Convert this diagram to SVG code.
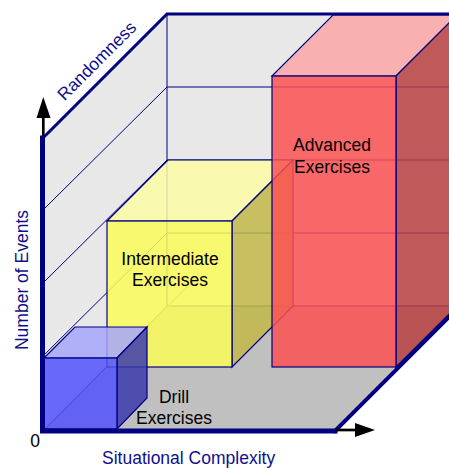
<svg xmlns="http://www.w3.org/2000/svg" width="449" height="469" viewBox="0 0 449 469">
<style>
.wall{fill:#e8e8e8}
.floor{fill:#c0c0c0}
.grid{stroke:#000080;stroke-width:1;fill:none}
.edge{stroke:#000080;stroke-width:1.2;stroke-linejoin:miter}
.face{fill-opacity:.85}
.border{stroke:#000080;fill:none;stroke-linecap:square}
.lbl{font-family:"Liberation Sans",Arial,Helvetica,sans-serif;font-size:17.5px}
.axis{fill:#10108c}
.txt{fill:#000}
</style>
<defs>
<marker id="ah" viewBox="0 0 10 10" refX="10" refY="5" markerWidth="6" markerHeight="6" orient="auto" markerUnits="userSpaceOnUse">
<path d="M0,0 L10,5 L0,10 z" fill="#a0a0a0"/>
</marker>
</defs>
<g id="room">
<rect class="wall" x="167" y="14" width="290" height="292"/>
<polygon class="wall" points="42,138 167,14 167,306 42,432"/>
<polygon class="floor" points="42,432 335,432 461,306 167,306"/>
</g>
<g id="grid">
<line class="grid" x1="167" y1="14" x2="167" y2="306"/>
<line class="grid" x1="167" y1="87" x2="449" y2="87"/>
<line class="grid" x1="167" y1="160" x2="449" y2="160"/>
<line class="grid" x1="167" y1="233" x2="449" y2="233"/>
<line class="grid" x1="167" y1="306" x2="449" y2="306"/>
<line class="grid" x1="42" y1="211" x2="167" y2="87"/>
<line class="grid" x1="42" y1="284" x2="167" y2="160"/>
<line class="grid" x1="42" y1="357" x2="167" y2="233"/>
<line class="grid" x1="42" y1="432" x2="167" y2="306"/>
<line x1="150" y1="324" x2="193" y2="281" stroke="#a0a0a0" stroke-width="1.5" marker-end="url(#ah)"/>
</g>
<g id="intermediate">
<polygon class="face edge" fill="#fbfba6" points="107,221 232,221 293,160 168,160"/>
<polygon class="face edge" fill="#c2b948" points="232,221 293,160 293,306 232,367"/>
<rect class="face edge" fill="#fbfb5b" x="107" y="221" width="125" height="146"/>
<text class="lbl txt" x="170" y="265" text-anchor="middle">Intermediate</text>
<text class="lbl txt" x="170" y="286" text-anchor="middle">Exercises</text>
</g>
<g id="advanced">
<polygon class="face edge" fill="#fba6a6" points="272,76 396,76 457,15 333,15"/>
<polygon class="face edge" fill="#b93f3f" points="396,76 457,15 457,306 396,367"/>
<rect class="face edge" fill="#fb5151" x="272" y="76" width="124" height="291"/>
<text class="lbl txt" x="332" y="151" text-anchor="middle">Advanced</text>
<text class="lbl txt" x="332" y="173" text-anchor="middle">Exercises</text>
</g>
<g id="drill">
<polygon class="face edge" fill="#a6a6fb" points="44,358 117,358 147,327 75,327"/>
<polygon class="face edge" fill="#3a3aab" points="117,358 147,327 147,398 117,429"/>
<rect class="face edge" fill="#5151fb" x="44" y="358" width="73" height="71"/>
<text class="lbl txt" x="174" y="403" text-anchor="middle">Drill</text>
<text class="lbl txt" x="174" y="424" text-anchor="middle">Exercises</text>
</g>
<g id="axes">
<path class="border" stroke-width="3" d="M449,14 L167,14 L42,139"/>
<path class="border" stroke-width="5" d="M42.5,138 L42.5,431 L335,431"/>
<path class="border" stroke-width="4" d="M335,431 L461,305"/>
<line x1="43.3" y1="136" x2="43.3" y2="115" stroke="#000" stroke-width="2.7"/>
<polygon points="43.3,97 36.5,118 50.5,118" fill="#000"/>
<line x1="335" y1="430" x2="357" y2="430" stroke="#000" stroke-width="2.7"/>
<polygon points="375,430 355,423 355,437" fill="#000"/>
<text class="lbl axis" transform="translate(101,65) rotate(-45)" text-anchor="middle">Randomness</text>
<text class="lbl axis" transform="translate(28,280) rotate(-90)" text-anchor="middle">Number of Events</text>
<text class="lbl axis" x="102" y="464">Situational Complexity</text>
<text class="lbl txt" x="35" y="447" text-anchor="middle">0</text>
</g>
</svg>
